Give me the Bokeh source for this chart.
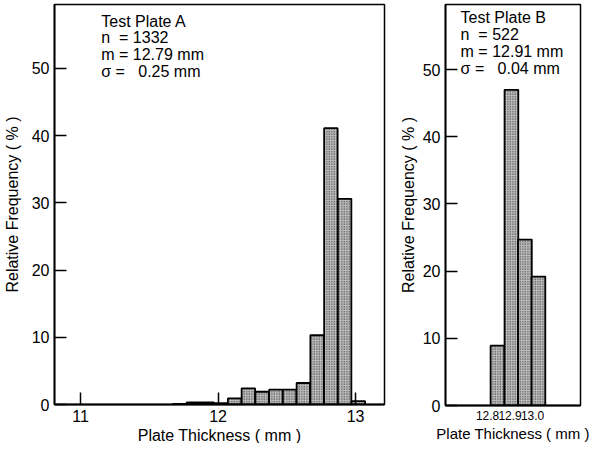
from bokeh.plotting import figure
from bokeh.layouts import row
from bokeh.models import FixedTicker, Label, PrintfTickFormatter
from bokeh.embed import file_html
from bokeh.resources import INLINE

# ---- data ----
a_centers = [11.72, 11.82, 11.92, 12.02, 12.12, 12.22, 12.32, 12.42, 12.52, 12.62, 12.72, 12.82, 12.92, 13.02]
a_freq = [0.1, 0.3, 0.3, 0.2, 0.9, 2.4, 1.9, 2.2, 2.2, 3.2, 10.3, 41.1, 30.6, 0.5]
a_width = 0.098
b_centers = [12.844, 12.906, 12.966, 13.026]
b_freq = [8.9, 47.0, 24.7, 19.2]
b_width = 0.061
y_ticks = [0, 10, 20, 30, 40, 50]
a_x_ticks = [11, 12, 13]
b_x_ticks = [12.8, 12.9, 13.0]
a_text = ["Test Plate A", "n\u00a0 = 1332", "m = 12.79 mm", "\u03c3 =\u00a0\u00a0 0.25 mm"]
b_text = ["Test Plate B", "n\u00a0 = 522", "m = 12.91 mm", "\u03c3 =\u00a0\u00a0 0.04 mm"]

FONT = "Liberation Sans"
BAR = dict(fill_color="#bdbdbd", line_color="black", line_width=1.8,
           hatch_pattern="dot", hatch_color="#222222", hatch_scale=2.5, hatch_weight=1.2)


def style(p, xticks, ylab_standoff):
    p.xgrid.visible = False
    p.ygrid.visible = False
    p.outline_line_color = "black"
    p.outline_line_width = 1.5
    for ax in (p.xaxis[0], p.yaxis[0]):
        ax.axis_line_width = 1.8
        ax.major_tick_line_width = 1.5
        ax.major_tick_in = 12
        ax.major_tick_out = 0
        ax.minor_tick_in = 0
        ax.minor_tick_out = 0
        ax.major_label_text_font = FONT
        ax.major_label_text_font_size = "16px"
        ax.major_label_text_color = "black"
        ax.axis_label_text_font = FONT
        ax.axis_label_text_font_size = "16px"
        ax.axis_label_text_font_style = "normal"
        ax.axis_label_text_color = "black"
        ax.major_label_standoff = 5
    p.yaxis[0].ticker = FixedTicker(ticks=y_ticks)
    p.xaxis[0].ticker = FixedTicker(ticks=xticks)
    p.yaxis[0].axis_label = "Relative Frequency ( % )"
    p.xaxis[0].axis_label = "Plate Thickness ( mm )"
    p.yaxis[0].axis_label_standoff = ylab_standoff
    p.xaxis[0].axis_label_standoff = 2


p1 = figure(frame_width=330, frame_height=400, x_range=(10.81, 13.21), y_range=(0, 59.5),
            output_backend="svg", toolbar_location=None,
            min_border_left=54, min_border_right=12, min_border_top=1, min_border_bottom=40)
p1.vbar(x=a_centers, top=a_freq, width=a_width, bottom=0, **BAR)
style(p1, a_x_ticks, 8)
for i, t in enumerate(a_text):
    p1.add_layout(Label(x=11.15, y=58.3 - i * 2.48, text=t, text_font=FONT, text_font_size="16px",
                        text_baseline="top", text_color="black"))

p2 = figure(frame_width=135, frame_height=401, x_range=(12.613, 13.213), y_range=(0, 59.7),
            output_backend="svg", toolbar_location=None,
            min_border_left=46, min_border_right=12, min_border_top=4, min_border_bottom=36)
p2.vbar(x=b_centers, top=b_freq, width=b_width, bottom=0, **BAR)
style(p2, b_x_ticks, 3)
p2.xaxis[0].major_tick_in = 0
p2.xaxis[0].major_label_text_font_size = "12px"
p2.xaxis[0].axis_label_text_font_size = "15px"
p2.xaxis[0].formatter = PrintfTickFormatter(format="%.1f")
for i, t in enumerate(b_text):
    p2.add_layout(Label(x=12.68, y=58.96 - i * 2.5, text=t, text_font=FONT, text_font_size="16px",
                        text_baseline="top", text_color="black"))

layout = row(p1, p2)
open("out.html", "w").write(file_html(layout, INLINE))
